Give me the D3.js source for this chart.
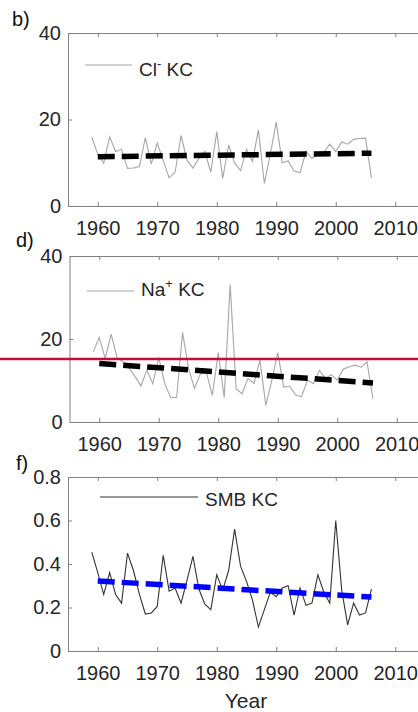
<!DOCTYPE html>
<html>
<head>
<meta charset="utf-8">
<script src="https://cdn.jsdelivr.net/npm/d3@7/dist/d3.min.js"></script>
<style>
body{margin:0;background:#fff;}
svg{display:block;font-family:"Liberation Sans",Arial,sans-serif;}
.axis path,.axis line{stroke:#808080;stroke-width:1;}
.axis text{fill:#262626;font-size:20px;font-family:"Liberation Sans",Arial,sans-serif;}
</style>
</head>
<body>
<div id="chart"></div>
<script>
// years of the ice core records
var years=[1959,1960,1961,1962,1963,1964,1965,1966,1967,1968,
    1969,1970,1971,1972,1973,1974,1975,1976,1977,1978,
    1979,1980,1981,1982,1983,1984,1985,1986,1987,1988,
    1989,1990,1991,1992,1993,1994,1995,1996,1997,1998,
    1999,2000,2001,2002,2003,2004,2005,2006];

var clValues=[15.9,12.0,9.9,16.0,12.6,13.1,8.7,8.8,9.1,15.8,
    9.7,14.6,10.5,6.5,7.8,16.3,10.6,8.7,11.0,12.6,
    7.8,17.2,6.4,14.1,9.9,8.2,13.1,10.3,17.6,5.2,
    12.0,19.4,10.0,10.4,8.1,7.7,12.6,11.0,12.0,12.4,
    14.3,12.6,14.8,14.3,15.4,15.6,15.7,6.5];

var naValues=[16.9,20.4,15.3,21.2,15.5,14.5,13.0,11.0,8.7,12.5,
    9.2,15.6,9.3,5.9,5.9,21.6,13.0,8.1,11.6,12.0,
    6.4,16.7,5.9,33.1,8.0,6.8,10.5,9.3,14.9,4.0,
    10.0,16.7,8.4,8.6,6.5,6.1,10.1,9.2,12.4,10.5,
    11.4,10.1,12.7,13.3,13.7,13.2,14.5,5.6];

var smbValues=[0.455,0.36,0.26,0.36,0.26,0.22,0.45,0.37,0.26,0.17,
    0.175,0.205,0.44,0.275,0.29,0.22,0.325,0.435,0.285,0.215,
    0.19,0.35,0.28,0.37,0.56,0.39,0.32,0.235,0.11,0.19,
    0.27,0.25,0.29,0.30,0.165,0.29,0.21,0.22,0.35,0.27,
    0.22,0.60,0.28,0.12,0.22,0.165,0.175,0.285];

// linear trend end points
var trendYears=[1960,2006];
var clTrend=[11.4,12.2];
var naTrend=[14.1,9.4];
var smbTrend=[0.322,0.248];

var xTicks=[1960,1970,1980,1990,2000,2010];
var clTicks=[0,20,40];
var naTicks=[0,20,40];
var smbTicks=[0,0.2,0.4,0.6,0.8];

var svg=d3.select('#chart').append('svg')
    .attr('width',418)
    .attr('height',712);

Panel=function(_svg,_cfg){
    this.svg=_svg;
    this.cfg=_cfg;
    this.initVis();
};

Panel.prototype.initVis=function(){
    var vis=this, c=vis.cfg;

    vis.x=d3.scaleLinear().domain([1955,2015]).range([c.left,c.left+357]);
    vis.y=d3.scaleLinear().domain([0,c.yMax]).range([c.bottom,c.top]);

    vis.g=vis.svg.append('g');

    // box + ticks
    vis.g.append('g').attr('class','axis')
        .attr('transform','translate(0,'+c.bottom+')')
        .call(d3.axisBottom(vis.x).tickValues(xTicks).tickFormat(d3.format('d'))
            .tickSizeInner(-4).tickSizeOuter(0).tickPadding(15));
    vis.g.append('g').attr('class','axis')
        .attr('transform','translate(0,'+c.top+')')
        .call(d3.axisTop(vis.x).tickValues(xTicks).tickFormat('')
            .tickSizeInner(-4).tickSizeOuter(0));
    vis.g.append('g').attr('class','axis')
        .attr('transform','translate('+c.left+',0)')
        .call(d3.axisLeft(vis.y).tickValues(c.ticks).tickFormat(c.fmt)
            .tickSizeInner(-4).tickSizeOuter(0).tickPadding(7));
    vis.g.append('g').attr('class','axis')
        .attr('transform','translate('+(c.left+357)+',0)')
        .call(d3.axisRight(vis.y).tickValues(c.ticks).tickFormat('')
            .tickSizeInner(-4).tickSizeOuter(0));

    var line=d3.line()
        .x(function(d){return vis.x(d[0]);})
        .y(function(d){return vis.y(d[1]);});

    vis.g.append('path')
        .datum(d3.zip(years,c.values))
        .attr('d',line)
        .attr('fill','none')
        .attr('stroke',c.lineColor)
        .attr('stroke-width',1.1);

    vis.g.append('path')
        .datum(d3.zip(trendYears,c.trend))
        .attr('d',line)
        .attr('fill','none')
        .attr('stroke',c.trendColor)
        .attr('stroke-width',5.5)
        .attr('stroke-dasharray','17,7');

    // legend
    vis.g.append('line')
        .attr('x1',c.legX1).attr('x2',c.legX2)
        .attr('y1',c.legY).attr('y2',c.legY)
        .attr('stroke',c.lineColor)
        .attr('stroke-width',1.1);
    var t=vis.g.append('text')
        .attr('x',c.legX2+7)
        .attr('y',c.legY+c.legDy)
        .attr('font-size',19)
        .attr('fill','#262626');
    t.append('tspan').text(c.legName);
    if(c.legSup){
        t.append('tspan').attr('dy',-8).attr('font-size',13).text(c.legSup);
        t.append('tspan').attr('dy',8).text(' KC');
    }else{
        t.append('tspan').text(' KC');
    }

    // panel letter
    vis.svg.append('text')
        .attr('x',c.labX)
        .attr('y',c.labY)
        .attr('font-size',20)
        .attr('fill','#111')
        .text(c.label);
};

new Panel(svg,{top:33,bottom:206,left:68,yMax:40,ticks:clTicks,fmt:d3.format('d'),
    values:clValues,trend:clTrend,lineColor:'#a6a6a6',trendColor:'#000',
    legX1:85,legX2:132,legY:65,legDy:11,legName:'Cl',legSup:'-',label:'b)',labX:12,labY:26});

new Panel(svg,{top:256,bottom:422,left:69.5,yMax:40,ticks:naTicks,fmt:d3.format('d'),
    values:naValues,trend:naTrend,lineColor:'#a6a6a6',trendColor:'#000',
    legX1:87,legX2:134,legY:291,legDy:5,legName:'Na',legSup:'+',label:'d)',labX:16,labY:247});

new Panel(svg,{top:477,bottom:651,left:68,yMax:0.8,ticks:smbTicks,
    fmt:function(d){return d===0?'0':d3.format('.1f')(d);},
    values:smbValues,trend:smbTrend,lineColor:'#333',trendColor:'#0000ff',
    legX1:100,legX2:198,legY:497,legDy:9,legName:'SMB',legSup:null,label:'f)',labX:16,labY:470});

svg.append('text')
    .attr('x',246)
    .attr('y',708)
    .attr('text-anchor','middle')
    .attr('font-size',21)
    .attr('fill','#262626')
    .text('Year');

// red marker line across panel d
svg.append('line')
    .attr('x1',0).attr('x2',418)
    .attr('y1',359).attr('y2',359)
    .attr('stroke','#c0103a')
    .attr('stroke-width',2.5);
</script>
</body>
</html>
